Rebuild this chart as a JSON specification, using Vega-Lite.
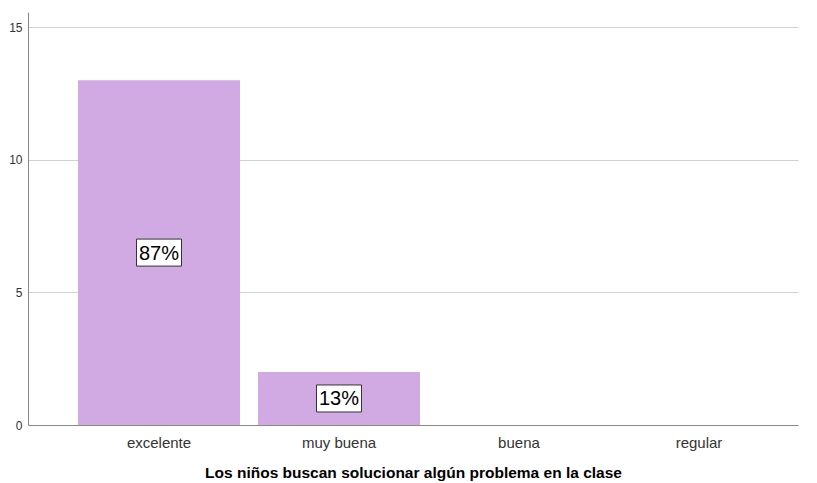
{
  "$schema": "https://vega.github.io/schema/vega-lite/v6.json",
  "width": 770,
  "height": 413,
  "autosize": {"type": "none"},
  "padding": {"left": 28, "top": 12, "right": 19, "bottom": 58},
  "config": {"view": {"stroke": null}, "font": "Liberation Sans"},
  "data": {
    "values": [
      {"category": "excelente", "count": 13, "pct": "87%"},
      {"category": "muy buena", "count": 2, "pct": "13%"},
      {"category": "buena", "count": 0, "pct": ""},
      {"category": "regular", "count": 0, "pct": ""}
    ]
  },
  "layer": [
    {
      "mark": {"type": "bar", "color": "#d1a9e3"},
      "encoding": {
        "x": {
          "field": "category",
          "type": "nominal",
          "sort": null,
          "scale": {"domain": ["excelente", "muy buena", "buena", "regular"], "paddingInner": 0.1, "paddingOuter": 0.189, "align": 0.735},
          "title": "Los niños buscan solucionar algún problema en la clase",
          "axis": {
            "domainColor": "#888888",
            "domainWidth": 1,
            "ticks": false,
            "grid": false,
            "labelAngle": 0,
            "labelFontSize": 15,
            "labelColor": "#333333",
            "labelPadding": 10,
            "titleFontSize": 15.5,
            "titleFontWeight": "bold",
            "titleColor": "#000000",
            "titlePadding": 15
          }
        },
        "y": {
          "field": "count",
          "type": "quantitative",
          "scale": {"domain": [0, 15.57], "nice": false},
          "title": null,
          "axis": {
            "values": [0, 5, 10, 15],
            "grid": true,
            "gridColor": "#d0d0d0",
            "ticks": false,
            "domainColor": "#888888",
            "labelFontSize": 12,
            "labelColor": "#333333",
            "labelPadding": 6
          }
        }
      }
    },
    {
      "transform": [{"filter": "datum.count > 0"}],
      "mark": {"type": "point", "shape": "M-1,-0.6L1,-0.6L1,0.6L-1,0.6Z", "filled": true, "fill": "#ffffff", "stroke": "#333333", "strokeWidth": 1, "size": 2025, "opacity": 1},
      "encoding": {
        "x": {"field": "category", "type": "nominal", "sort": null},
        "y": {"field": "count", "type": "quantitative", "scale": {"domain": [0, 31.14], "nice": false}, "axis": null}
      }
    },
    {
      "transform": [{"filter": "datum.count > 0"}],
      "mark": {"type": "text", "fontSize": 20, "color": "#000000", "align": "center", "baseline": "middle", "dy": 1},
      "encoding": {
        "x": {"field": "category", "type": "nominal", "sort": null},
        "y": {"field": "count", "type": "quantitative", "scale": {"domain": [0, 31.14], "nice": false}, "axis": null},
        "text": {"field": "pct", "type": "nominal"}
      }
    }
  ],
  "resolve": {"scale": {"y": "independent"}}
}
